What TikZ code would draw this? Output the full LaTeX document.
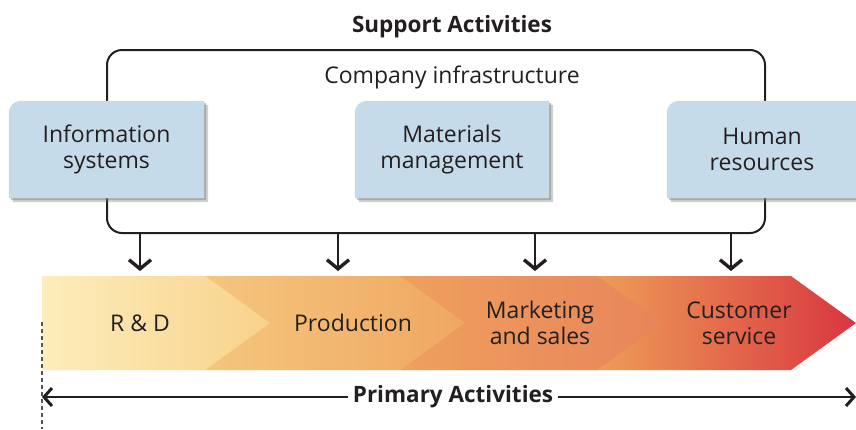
\documentclass[tikz,border=0pt]{standalone}
\usepackage{fontspec}
\setmainfont{Open Sans}
\usetikzlibrary{positioning,calc,arrows.meta}
\definecolor{vcink}{HTML}{231F20}
\definecolor{vcsupport}{HTML}{C6DBEA}
\definecolor{vcshadow}{HTML}{7A7A7A}
\definecolor{vcguide}{HTML}{555555}
% band colours, one pair per chevron
\definecolor{vcsegAa}{HTML}{FDEDBB}
\definecolor{vcsegAb}{HTML}{F8D28C}
\definecolor{vcsegBa}{HTML}{F5C67E}
\definecolor{vcsegBb}{HTML}{EFA762}
\definecolor{vcsegCa}{HTML}{EFA05E}
\definecolor{vcsegCb}{HTML}{E8845A}
\definecolor{vcsegDa}{HTML}{EE9D58}
\definecolor{vcsegDb}{HTML}{D8363F}
\pgfdeclarelayer{back}
\pgfsetlayers{back,main}

\begin{document}
\begin{tikzpicture}[x=1pt,y=-1pt,
    every node/.style={text=vcink},
    txt/.style={font=\fontsize{23}{26}\selectfont,align=center,inner sep=0pt},
    title/.style={font=\fontsize{22.5}{26}\selectfont\bfseries,inner sep=0pt},
    support/.style={txt,minimum height=97pt},
    frame/.style={draw=vcink,line width=2pt,rounded corners=15pt,
                  minimum width=658pt,minimum height=183pt,inner sep=0pt},
    supparr/.style={-{Straight Barb[length=9pt,width=22pt,line width=3.4pt]},
                    line width=2.8pt,draw=vcink},
    primarr/.style={{Straight Barb[length=8pt,width=18pt,line width=3pt]}-{Straight Barb[length=8pt,width=18pt,line width=3pt]},
                    line width=2.4pt,draw=vcink},
    guide/.style={draw=vcguide,line width=1.2pt,dash pattern=on 4pt off 3pt},
  ]
    \useasboundingbox (0,0) rectangle (856,429);

    % support activities
    \node[title] (support) at (452,27) {Support Activities};
    \node[txt] (infra-lbl) at (452,77) {Company infrastructure};
    \node[support,minimum width=195pt] (infosys) at (106.5,149.5) {Information\\systems};
    \node[support,minimum width=194pt] (matmgmt) at (452,149.5)   {Materials\\management};
    \node[support,minimum width=190pt] (humres)  at (762,149.5)   {Human\\resources};

    \begin{pgfonlayer}{back}
      \node[frame] (infra) at (436,141.5) {};
      \foreach \n in {infosys,matmgmt,humres} {
        \fill[vcshadow,opacity=.35]
          ([shift={(4pt,-4pt)}]\n.south west) -- ([shift={(4pt,-16pt)}]\n.north west)
          arc[start angle=180,end angle=90,radius=12pt]
          -- ([shift={(4pt,-4pt)}]\n.north east) -- ([shift={(4pt,-4pt)}]\n.south east) -- cycle;
        \fill[vcshadow,opacity=.45]
          ([shift={(2pt,-2pt)}]\n.south west) -- ([shift={(2pt,-14pt)}]\n.north west)
          arc[start angle=180,end angle=90,radius=12pt]
          -- ([shift={(2pt,-2pt)}]\n.north east) -- ([shift={(2pt,-2pt)}]\n.south east) -- cycle;
        \fill[vcsupport]
          (\n.south west) -- ([yshift=-12pt]\n.north west)
          arc[start angle=180,end angle=90,radius=12pt]
          -- (\n.north east) -- (\n.south east) -- cycle;
      }
    \end{pgfonlayer}

    % primary activities band, drawn right to left so each tip overlaps
    \foreach \xa/\xb/\ca/\cb in {597/791/vcsegDa/vcsegDb,400/597/vcsegCa/vcsegCb,
                                 205/400/vcsegBa/vcsegBb,42/205/vcsegAa/vcsegAb}
      \shade[left color=\ca,right color=\cb]
        (\xa,276) -- (\xb,276) -- (\xb+65,323) -- (\xb,370) -- (\xa,370) -- cycle;

    \node[txt] (rd)   at (140,323) {R \& D};
    \node[txt] (prod) at (353,323) {Production};
    \node[txt] (mkt)  at (540,323) {Marketing\\and sales};
    \node[txt] (serv) at (739,323) {Customer\\service};

    \coordinate (band-in) at (0,271);
    \foreach \ax in {140,338,535,731}
      \draw[supparr] (infra.south -| \ax,0) -- (band-in -| \ax,0);

    \draw[guide] (42,322) -- (42,429);
    \coordinate (pa-l) at (42,397);
    \coordinate (pa-r) at (856,397);
    \draw[primarr] (pa-l) -- (pa-r);
    \node[title,fill=white,inner xsep=5pt,inner ysep=2pt] (primary) at (453,397) {Primary Activities};
  \end{tikzpicture}
\end{document}
